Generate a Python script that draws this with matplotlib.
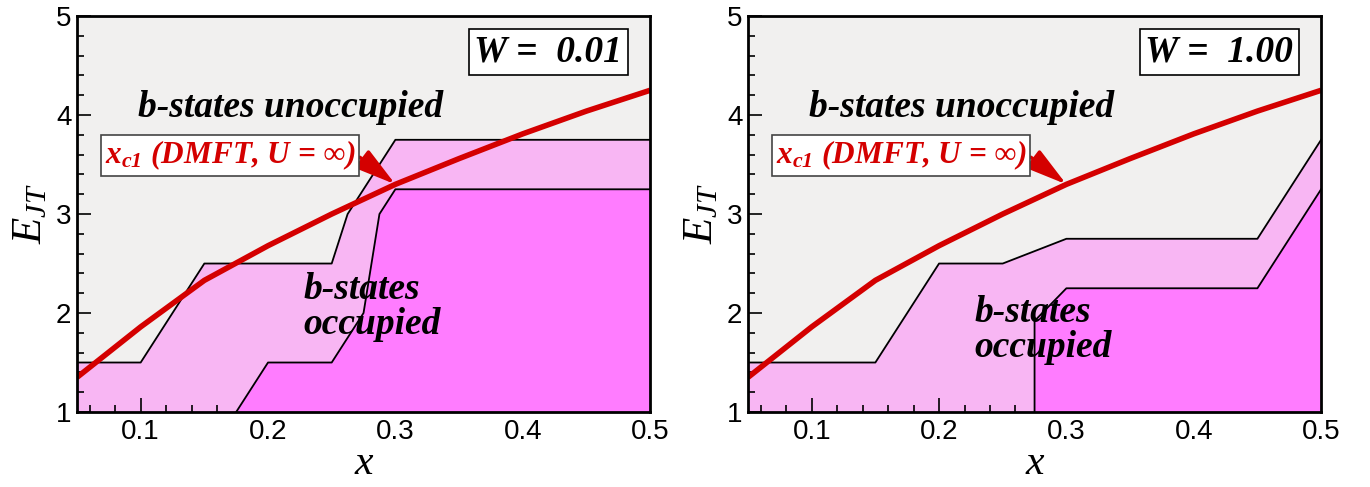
import numpy as np
import matplotlib
matplotlib.use("Agg")
import matplotlib.pyplot as plt
from matplotlib.ticker import MultipleLocator

plt.rcParams['mathtext.fontset'] = 'custom'
plt.rcParams['mathtext.it'] = 'Liberation Serif:italic'
plt.rcParams['mathtext.rm'] = 'Liberation Serif'
plt.rcParams['mathtext.bf'] = 'Liberation Serif:italic:bold'

# critical line x_c1 (DMFT, U = inf), same on both panels
xc_x = [0.05, 0.10, 0.15, 0.20, 0.25, 0.30, 0.35, 0.40, 0.45, 0.50]
xc_y = [1.35, 1.86, 2.33, 2.68, 3.00, 3.30, 3.56, 3.81, 4.04, 4.25]

# W = 0.01 boundaries
w1_upper_x = [0.05, 0.10, 0.15, 0.25, 0.2625, 0.30, 0.50]
w1_upper_y = [1.50, 1.50, 2.50, 2.50, 3.00, 3.75, 3.75]
w1_lower_x = [0.175, 0.20, 0.25, 0.2625, 0.275, 0.2875, 0.30, 0.50]
w1_lower_y = [1.00, 1.50, 1.50, 1.75, 2.00, 3.00, 3.25, 3.25]

# W = 1.00 boundaries
w2_upper_x = [0.05, 0.15, 0.20, 0.25, 0.30, 0.45, 0.50]
w2_upper_y = [1.50, 1.50, 2.50, 2.50, 2.75, 2.75, 3.75]
w2_lower_x = [0.275, 0.275, 0.30, 0.45, 0.50]
w2_lower_y = [1.00, 1.92, 2.25, 2.25, 3.25]

panels = [
    ("W =  0.01", w1_upper_x, w1_upper_y, w1_lower_x, w1_lower_y, 2.06),
    ("W =  1.00", w2_upper_x, w2_upper_y, w2_lower_x, w2_lower_y, 1.83),
]

bg = '#f1f0ef'
pink = '#f8b6f3'
magenta = '#ff7cff'
red = '#d40000'
serif = ['Liberation Serif', 'DejaVu Serif']

fig = plt.figure(figsize=(13.7, 4.87), dpi=100)
lefts = [0.0562, 0.546]

for left, (wlab, ux, uy, lx, ly, occ_y) in zip(lefts, panels):
    ax = fig.add_axes([left, 0.154, 0.4183, 0.813])
    ax.set_facecolor(bg)
    ax.set_xlim(0.05, 0.5)
    ax.set_ylim(1, 5)

    # light pink region under the upper boundary
    ax.fill(ux + [0.5, 0.05], uy + [1, 1], color=pink, lw=0, zorder=1)
    # magenta region under the lower boundary
    ax.fill(lx + [0.5], ly + [1], color=magenta, lw=0, zorder=2)
    ax.plot(ux, uy, color='black', lw=1.3, zorder=3)
    ax.plot(lx, ly, color='black', lw=1.3, zorder=3)

    ax.plot(xc_x, xc_y, color=red, lw=4, zorder=5, solid_capstyle='butt')

    ax.text(0.218, 4.08, 'b-states unoccupied', ha='center', va='center',
            fontsize=27, fontweight='bold', fontstyle='italic', family=serif, zorder=6)
    ax.text(0.228, occ_y, 'b-states\noccupied', ha='left', va='center',
            fontsize=27, fontweight='bold', fontstyle='italic', family=serif,
            linespacing=1.0, zorder=6)

    ax.text(0.42, 4.64, wlab, ha='center', va='center', fontsize=27,
            fontweight='bold', fontstyle='italic', family=serif, zorder=6,
            bbox=dict(boxstyle='square,pad=0.15', fc='white', ec='black', lw=1.2))

    ax.annotate(r'$\mathbf{x_{c1}}$ (DMFT, U = ∞)', xy=(0.30, 3.30),
                xytext=(0.072, 3.59), ha='left', va='center', color=red,
                fontsize=22.5, fontweight='bold', fontstyle='italic', family=serif,
                zorder=7,
                bbox=dict(boxstyle='square,pad=0.12', fc='white', ec='#444444', lw=1.2),
                arrowprops=dict(arrowstyle='-|>,head_length=1.1,head_width=0.3',
                                color=red, lw=2.5, shrinkA=0, shrinkB=0,
                                relpos=(1.0, 0.55)))

    ax.xaxis.set_major_locator(MultipleLocator(0.1))
    ax.xaxis.set_minor_locator(MultipleLocator(0.02))
    ax.yaxis.set_major_locator(MultipleLocator(1))
    ax.yaxis.set_minor_locator(MultipleLocator(0.2))
    ax.tick_params(which='both', direction='in', top=False, right=False, width=1.2)
    ax.tick_params(which='major', length=10, labelsize=20, pad=5)
    ax.tick_params(which='minor', length=5)
    ax.tick_params(axis='y', which='major', pad=4)
    ax.set_xticks([0.1, 0.2, 0.3, 0.4, 0.5])
    ax.set_xticklabels(['0.1', '0.2', '0.3', '0.4', '0.5'])
    for lab in ax.get_xticklabels() + ax.get_yticklabels():
        lab.set_family('Liberation Sans')
    for sp in ax.spines.values():
        sp.set_linewidth(2)
        sp.set_zorder(10)

    ax.set_xlabel('x', fontsize=30, fontstyle='italic', family=serif, labelpad=0)
    ax.set_ylabel(r'$E_{JT}$', fontsize=31, labelpad=4)

fig.savefig('out.png', dpi=100)
